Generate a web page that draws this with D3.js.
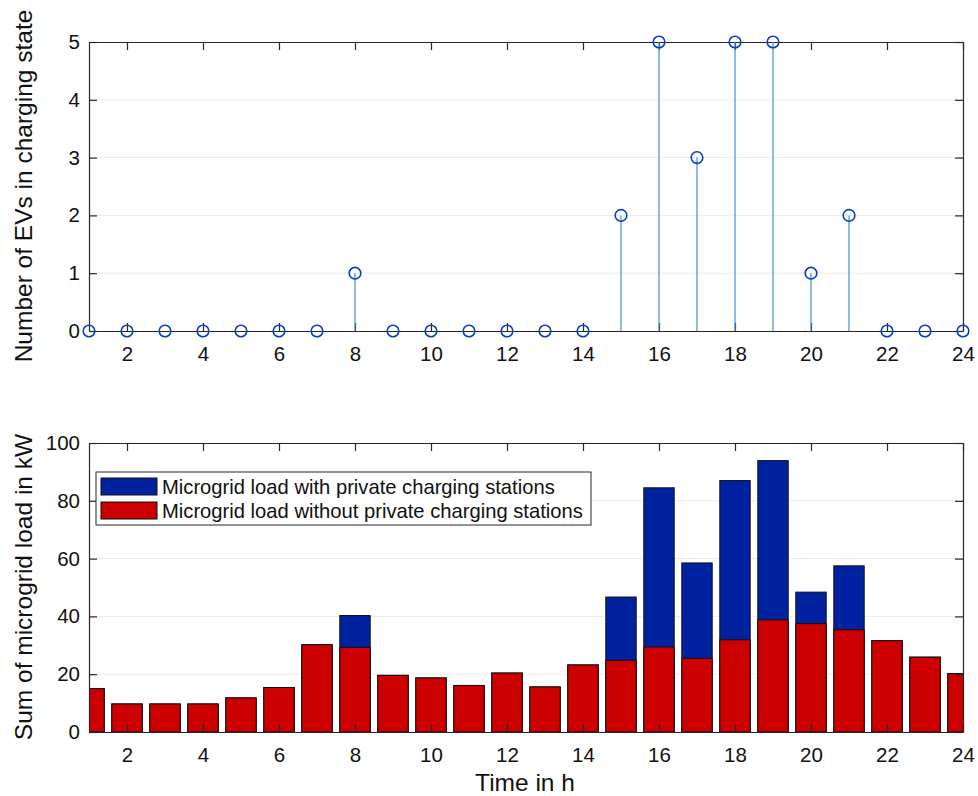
<!DOCTYPE html>
<html>
<head>
<meta charset="utf-8">
<script src="https://cdn.jsdelivr.net/npm/d3@7"></script>
<style>
  body { margin: 0; background: #fff; }
  svg text { font-family: Arial, "Liberation Sans", sans-serif; fill: #111; }
</style>
</head>
<body>
<div id="chart"></div>
<script>
// hours 1..24
const hours = d3.range(1, 25);
// number of EVs in charging state per hour
const evCount = [0,0,0,0,0,0,0,1,0,0,0,0,0,0,2,5,3,5,5,1,2,0,0,0];
// load without private charging stations (kW)
const loadWithout = [15.0,9.7,9.7,9.7,11.8,15.4,30.2,29.3,19.6,18.7,16.1,20.4,15.6,23.2,24.8,29.4,25.5,31.9,38.8,37.5,35.4,31.6,25.9,20.2];
// load with private charging stations (kW)
const loadWith = [15.0,9.7,9.7,9.7,11.8,15.4,30.2,40.3,19.6,18.7,16.1,20.4,15.6,23.2,46.7,84.5,58.5,87.0,93.9,48.4,57.5,31.6,25.9,20.2];
const xTicks = [2,4,6,8,10,12,14,16,18,20,22,24];
const topYTicks = [0,1,2,3,4,5];
const botYTicks = [0,20,40,60,80,100];
const legendLabels = ["Microgrid load with private charging stations", "Microgrid load without private charging stations"];

const W = 978, H = 796;
const left = 89, right = 963;
const svg = d3.select("#chart").append("svg").attr("width", W).attr("height", H);

const x = d3.scaleLinear().domain([1, 24]).range([left, right]);

// light horizontal grid lines
function drawGrid(g, y, yTicks) {
    g.append("g").selectAll("line").data(yTicks.slice(1, -1)).enter().append("line")
        .attr("x1", left).attr("x2", right)
        .attr("y1", d => y(d)).attr("y2", d => y(d))
        .attr("stroke", "#ebebeb").attr("stroke-width", 1);
}
// box with inward ticks, MATLAB style
function drawAxes(g, y, yTicks, top, bottom) {
    const ax = g.append("g").attr("class", "axes");
    ax.append("g").attr("transform", `translate(0,${bottom})`)
        .call(d3.axisBottom(x).tickValues(xTicks).tickSizeInner(-8).tickSizeOuter(0).tickPadding(15).tickFormat(d3.format("d")));
    ax.append("g").attr("transform", `translate(0,${top})`)
        .call(d3.axisTop(x).tickValues(xTicks).tickSizeInner(-8).tickSizeOuter(0).tickFormat(""));
    ax.append("g").attr("transform", `translate(${left},0)`)
        .call(d3.axisLeft(y).tickValues(yTicks).tickSizeInner(-8).tickSizeOuter(0).tickPadding(9).tickFormat(d3.format("d")));
    ax.append("g").attr("transform", `translate(${right},0)`)
        .call(d3.axisRight(y).tickValues(yTicks).tickSizeInner(-8).tickSizeOuter(0).tickFormat(""));
    ax.selectAll(".domain").attr("stroke", "#262626").attr("stroke-width", 1.2);
    ax.selectAll(".tick line").attr("stroke", "#262626").attr("stroke-width", 1.2);
    ax.selectAll(".tick text").attr("font-size", 20.5).attr("fill", "#111");
}

// ---------- top panel: stem plot ----------
const t = { top: 42, bottom: 331 };
const yTop = d3.scaleLinear().domain([0, 5]).range([t.bottom, t.top]);
const gTop = svg.append("g");
drawGrid(gTop, yTop, topYTicks);
drawAxes(gTop, yTop, topYTicks, t.top, t.bottom);

gTop.selectAll(".stem").data(hours).enter().append("line")
    .attr("class", "stem")
    .attr("x1", d => x(d)).attr("x2", d => x(d))
    .attr("y1", yTop(0)).attr("y2", (d, i) => yTop(evCount[i]))
    .attr("stroke", "#3f8fdc").attr("stroke-width", 1.2);
gTop.selectAll(".marker").data(hours).enter().append("circle")
    .attr("class", "marker")
    .attr("cx", d => x(d)).attr("cy", (d, i) => yTop(evCount[i]))
    .attr("r", 5.8).attr("fill", "none")
    .attr("stroke", "#0a3fc0").attr("stroke-width", 1.6);

svg.append("text")
    .attr("transform", "translate(32,186) rotate(-90)")
    .attr("text-anchor", "middle").attr("font-size", 24.5)
    .text("Number of EVs in charging state");

// ---------- bottom panel: overlapped bars ----------
const b = { top: 443, bottom: 732 };
const yBot = d3.scaleLinear().domain([0, 100]).range([b.bottom, b.top]);
const gBot = svg.append("g");
drawGrid(gBot, yBot, botYTicks);

svg.append("clipPath").attr("id", "plotClip").append("rect")
    .attr("x", left).attr("y", b.top).attr("width", right - left).attr("height", b.bottom - b.top);

const bw = (x(2) - x(1)) * 0.8;
const bars = gBot.append("g").attr("clip-path", "url(#plotClip)");
bars.selectAll(".barWith").data(hours).enter().append("rect")
    .attr("class", "barWith")
    .attr("x", d => x(d) - bw / 2).attr("width", bw)
    .attr("y", (d, i) => yBot(loadWith[i])).attr("height", (d, i) => yBot(0) - yBot(loadWith[i]))
    .attr("fill", "#0021a0").attr("stroke", "#111").attr("stroke-width", 1);
bars.selectAll(".barWithout").data(hours).enter().append("rect")
    .attr("class", "barWithout")
    .attr("x", d => x(d) - bw / 2).attr("width", bw)
    .attr("y", (d, i) => yBot(loadWithout[i])).attr("height", (d, i) => yBot(0) - yBot(loadWithout[i]))
    .attr("fill", "#cc0000").attr("stroke", "#111").attr("stroke-width", 1);

drawAxes(gBot, yBot, botYTicks, b.top, b.bottom);

svg.append("text")
    .attr("transform", "translate(32,587) rotate(-90)")
    .attr("text-anchor", "middle").attr("font-size", 24.5)
    .text("Sum of microgrid load in kW");
svg.append("text")
    .attr("x", 525).attr("y", 791)
    .attr("text-anchor", "middle").attr("font-size", 24.5)
    .text("Time in h");

// legend
const leg = svg.append("g").attr("transform", "translate(96,472)");
leg.append("rect").attr("width", 495).attr("height", 53)
    .attr("fill", "#fff").attr("stroke", "#262626").attr("stroke-width", 1);
const legColors = ["#0021a0", "#cc0000"];
legendLabels.forEach((lab, i) => {
    leg.append("rect").attr("x", 5).attr("y", 6 + i * 24).attr("width", 56).attr("height", 17)
        .attr("fill", legColors[i]).attr("stroke", "#111").attr("stroke-width", 1);
    leg.append("text").attr("x", 66).attr("y", 22 + i * 24).attr("font-size", 20.2).text(lab);
});
</script>
</body>
</html>
